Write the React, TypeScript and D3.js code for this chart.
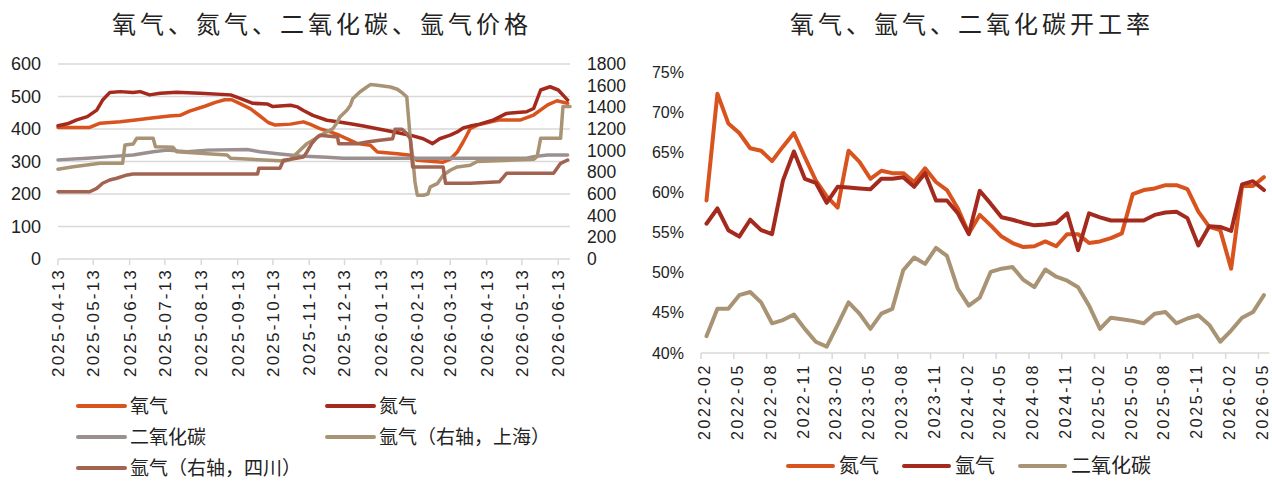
import React from 'react';
import * as d3 from 'd3';

// ---- left chart: prices (step series, breakpoints) ----
const priceTicks = [
  '2025-04-13', '2025-05-13', '2025-06-13', '2025-07-13', '2025-08-13',
  '2025-09-13', '2025-10-13', '2025-11-13', '2025-12-13', '2026-01-13',
  '2026-02-13', '2026-03-13', '2026-04-13', '2026-05-13', '2026-06-13',
];
const priceStart = '2025-04-13';
const priceEnd = '2026-06-23';

const oxygen: [string, number][] = [
  ['2025-04-13', 405], ['2025-05-10', 405], ['2025-05-19', 418], ['2025-06-05', 422],
  ['2025-06-18', 428], ['2025-06-30', 433], ['2025-07-17', 440], ['2025-07-26', 442],
  ['2025-08-03', 455], ['2025-08-16', 470], ['2025-08-25', 482], ['2025-09-02', 490],
  ['2025-09-08', 490], ['2025-09-15', 478], ['2025-09-24', 462], ['2025-10-02', 440],
  ['2025-10-09', 420], ['2025-10-15', 412], ['2025-10-28', 415], ['2025-11-08', 422],
  ['2025-11-14', 414], ['2025-11-22', 401], ['2025-12-01', 391], ['2025-12-09', 380],
  ['2025-12-18', 365], ['2025-12-24', 355], ['2026-01-04', 350], ['2026-01-10', 329],
  ['2026-01-27', 324], ['2026-02-07', 319], ['2026-02-13', 304], ['2026-03-07', 298],
  ['2026-03-13', 307], ['2026-03-19', 329], ['2026-03-24', 360], ['2026-03-27', 380],
  ['2026-03-30', 401], ['2026-04-05', 412], ['2026-04-24', 428], ['2026-05-12', 428],
  ['2026-05-23', 443], ['2026-06-04', 474], ['2026-06-12', 487], ['2026-06-21', 479],
];

const nitrogen: [string, number][] = [
  ['2025-04-13', 410], ['2025-04-21', 416], ['2025-04-29', 428], ['2025-05-08', 438],
  ['2025-05-16', 458], ['2025-05-21', 489], ['2025-05-27', 512], ['2025-06-05', 515],
  ['2025-06-16', 512], ['2025-06-22', 515], ['2025-06-30', 505], ['2025-07-09', 510],
  ['2025-07-23', 513], ['2025-08-12', 510], ['2025-09-07', 505], ['2025-09-15', 494],
  ['2025-09-26', 479], ['2025-10-08', 477], ['2025-10-13', 469], ['2025-10-28', 473],
  ['2025-11-03', 468], ['2025-11-08', 457], ['2025-11-16', 442], ['2025-11-28', 427],
  ['2025-12-07', 422], ['2025-12-18', 416], ['2025-12-29', 409], ['2026-01-10', 401],
  ['2026-01-21', 393], ['2026-02-07', 381], ['2026-02-18', 370], ['2026-02-26', 355],
  ['2026-03-04', 370], ['2026-03-13', 381], ['2026-03-19', 391], ['2026-03-24', 403],
  ['2026-03-30', 409], ['2026-04-07', 415], ['2026-04-19', 428], ['2026-04-30', 448],
  ['2026-05-17', 453], ['2026-05-23', 463], ['2026-05-29', 520], ['2026-06-06', 530],
  ['2026-06-13', 520], ['2026-06-21', 489],
];

const co2Price: [string, number][] = [
  ['2025-04-13', 305], ['2025-05-08', 310], ['2025-05-27', 315], ['2025-06-16', 320],
  ['2025-07-03', 330], ['2025-07-15', 335], ['2025-08-01', 330], ['2025-08-18', 335],
  ['2025-09-21', 337], ['2025-10-02', 330], ['2025-10-19', 323], ['2025-11-05', 317],
  ['2025-11-28', 313], ['2025-12-12', 310], ['2026-05-17', 310], ['2026-05-23', 315],
  ['2026-06-04', 320], ['2026-06-21', 320],
];

const argonShanghai: [string, number][] = [
  ['2025-04-13', 828], ['2025-04-26', 852], ['2025-05-19', 883], ['2025-06-07', 883],
  ['2025-06-09', 1052], ['2025-06-16', 1061], ['2025-06-19', 1114], ['2025-07-03', 1114],
  ['2025-07-05', 1037], ['2025-07-20', 1031], ['2025-07-23', 991], ['2025-08-12', 976],
  ['2025-09-04', 960], ['2025-09-07', 929], ['2025-10-23', 905], ['2025-10-28', 920],
  ['2025-11-11', 1065], ['2025-11-25', 1157], ['2025-12-03', 1203], ['2025-12-07', 1265],
  ['2025-12-09', 1311], ['2025-12-15', 1373], ['2025-12-18', 1419], ['2025-12-20', 1480],
  ['2025-12-26', 1542], ['2026-01-01', 1588], ['2026-01-04', 1610], ['2026-01-10', 1603],
  ['2026-01-21', 1588], ['2026-01-27', 1567], ['2026-02-01', 1526], ['2026-02-04', 1496],
  ['2026-02-07', 1111], ['2026-02-09', 942], ['2026-02-11', 711], ['2026-02-13', 588],
  ['2026-02-18', 588], ['2026-02-22', 600], ['2026-02-24', 665], ['2026-03-02', 695],
  ['2026-03-04', 726], ['2026-03-07', 773], ['2026-03-13', 819], ['2026-03-19', 850],
  ['2026-03-30', 865], ['2026-04-05', 900], ['2026-05-23', 920], ['2026-05-26', 945],
  ['2026-05-29', 1114], ['2026-06-15', 1114], ['2026-06-17', 1407], ['2026-06-23', 1407],
];

const argonSichuan: [string, number][] = [
  ['2025-04-13', 621], ['2025-05-10', 621], ['2025-05-16', 652], ['2025-05-21', 699],
  ['2025-05-27', 729], ['2025-06-02', 745], ['2025-06-11', 776], ['2025-06-16', 785],
  ['2025-09-30', 785], ['2025-10-01', 837], ['2025-10-19', 837], ['2025-10-22', 911],
  ['2025-10-28', 920], ['2025-11-08', 942], ['2025-11-11', 988], ['2025-11-15', 1065],
  ['2025-11-20', 1127], ['2025-11-22', 1142], ['2025-12-07', 1127], ['2025-12-08', 1065],
  ['2025-12-24', 1065], ['2026-01-01', 1080], ['2026-01-12', 1096], ['2026-01-23', 1111],
  ['2026-01-25', 1197], ['2026-01-31', 1197], ['2026-02-04', 1157], ['2026-02-07', 1111],
  ['2026-02-09', 850], ['2026-03-07', 850], ['2026-03-09', 699], ['2026-03-30', 700],
  ['2026-04-24', 714], ['2026-04-30', 791], ['2026-06-09', 791], ['2026-06-15', 883],
  ['2026-06-21', 914],
];

const leftTicks = [0, 100, 200, 300, 400, 500, 600];
const rightTicks = [0, 200, 400, 600, 800, 1000, 1200, 1400, 1600, 1800];

// ---- right chart: operating rates (monthly, 2022-02 .. 2026-05) ----
const rateStart = '2022-02-01';
const rateEnd = '2026-06-01';
const rateTickLabels = [
  '2022-02', '2022-05', '2022-08', '2022-11', '2023-02', '2023-05', '2023-08', '2023-11',
  '2024-02', '2024-05', '2024-08', '2024-11', '2025-02', '2025-05', '2025-08', '2025-11',
  '2026-02', '2026-05',
];
const nitrogenRate = [
  59.0, 72.3, 68.6, 67.4, 65.5, 65.2, 63.9, 65.7, 67.4, 64.4, 61.5, 59.5, 58.1,
  65.2, 63.8, 61.7, 62.7, 62.4, 62.4, 61.3, 63.0, 61.3, 60.3, 58.0, 54.9, 57.2,
  55.9, 54.5, 53.7, 53.2, 53.3, 53.9, 53.3, 54.8, 54.8, 53.7, 53.9, 54.3, 54.9,
  59.8, 60.3, 60.5, 60.9, 60.9, 60.4, 57.6, 55.7, 55.3, 50.5, 60.8, 60.8, 61.9,
];
const argonRate = [
  56.1, 58.0, 55.3, 54.5, 56.6, 55.3, 54.8, 61.5, 65.1, 61.7, 61.2, 58.7, 60.7,
  60.6, 60.5, 60.4, 61.7, 61.7, 61.9, 60.7, 62.4, 59.0, 59.0, 57.4, 54.8, 60.2,
  58.6, 56.9, 56.6, 56.2, 55.9, 56.0, 56.2, 57.4, 52.8, 57.4, 56.9, 56.5, 56.5,
  56.5, 56.5, 57.2, 57.5, 57.6, 56.8, 53.4, 55.8, 55.7, 55.2, 61.0, 61.4, 60.3,
];
const co2Rate = [
  42.1, 45.5, 45.5, 47.2, 47.6, 46.3, 43.7, 44.1, 44.8, 43.0, 41.4, 40.8, 43.5,
  46.3, 44.9, 43.0, 44.9, 45.5, 50.3, 51.9, 51.1, 53.1, 52.1, 48.0, 45.9, 46.9,
  50.1, 50.5, 50.7, 49.1, 48.2, 50.4, 49.5, 49.0, 48.2, 45.9, 43.0, 44.4, 44.2,
  44.0, 43.7, 44.9, 45.1, 43.7, 44.3, 44.7, 43.5, 41.4, 42.8, 44.4, 45.1, 47.2,
];
const rateTicks = [40, 45, 50, 55, 60, 65, 70, 75];

const C = {
  orange: '#D9531E',
  darkRed: '#A52A1E',
  grey: '#9B9090',
  tan: '#A89474',
  brown: '#A26450',
  grid: '#D9D9D9',
  text: '#222',
};

const LATIN = '"Liberation Sans", Arial, sans-serif';
const CJK = '"Noto Sans CJK SC", "Noto Sans", sans-serif';

const parse = d3.timeParse('%Y-%m-%d');

const App = () => {
  // left chart scales
  const x1 = d3.scaleTime().domain([parse(priceStart)!, parse(priceEnd)!]).range([58, 570]);
  const yL = d3.scaleLinear().domain([0, 600]).range([259, 64]);
  const yR = d3.scaleLinear().domain([0, 1800]).range([259, 64]);

  const lineL = d3.line<[string, number]>().x(d => x1(parse(d[0])!)).y(d => yL(d[1]));
  const lineR = d3.line<[string, number]>().x(d => x1(parse(d[0])!)).y(d => yR(d[1]));

  const leftSeries = [
    { name: '氧气', color: C.orange, d: lineL(oxygen) },
    { name: '氮气', color: C.darkRed, d: lineL(nitrogen) },
    { name: '二氧化碳', color: C.grey, d: lineL(co2Price) },
    { name: '氩气（右轴，上海）', color: C.tan, d: lineR(argonShanghai) },
    { name: '氩气（右轴，四川）', color: C.brown, d: lineR(argonSichuan) },
  ];

  // right chart scales
  const months = d3.timeMonth.range(parse(rateStart)!, parse(rateEnd)!);
  const fmtM = d3.timeFormat('%Y-%m');
  const monthKeys = months.map(fmtM);
  const x2 = d3.scaleBand<string>().domain(monthKeys).range([701, 1269.4]);
  const y2 = d3.scaleLinear().domain([40, 75]).range([353, 72]);
  const lineRate = d3.line<number>()
    .x((_, i) => x2(monthKeys[i])! + x2.bandwidth() / 2)
    .y(d => y2(d));

  const rightSeries = [
    { name: '氮气', color: C.orange, values: nitrogenRate },
    { name: '氩气', color: C.darkRed, values: argonRate },
    { name: '二氧化碳', color: C.tan, values: co2Rate },
  ];

  const leftLegendPos = [
    [78, 406], [327, 406], [78, 437], [327, 437], [78, 468],
  ];
  const rightLegendPos = [788, 904, 1020];

  return (
    <svg width={1272} height={482} style={{ position: 'absolute', left: 0, top: 0, background: '#fff' }}>
      {/* titles */}
      <text x={322} y={33} textAnchor="middle" fontFamily={CJK} fontSize={24} letterSpacing={4} fill={C.text}>
        氧气、氮气、二氧化碳、氩气价格
      </text>
      <text x={972} y={33} textAnchor="middle" fontFamily={CJK} fontSize={24} letterSpacing={4} fill={C.text}>
        氧气、氩气、二氧化碳开工率
      </text>

      {/* left chart grid + axes */}
      {leftTicks.map(t => (
        <g key={`gl${t}`}>
          <line x1={58} x2={570} y1={yL(t)} y2={yL(t)} stroke={C.grid} strokeWidth={1.5} />
          <text x={41} y={yL(t)} dy="0.35em" textAnchor="end" fontFamily={LATIN} fontSize={18} fill={C.text}>{t}</text>
        </g>
      ))}
      {rightTicks.map(t => (
        <text key={`gr${t}`} x={587} y={yR(t)} dy="0.35em" textAnchor="start" fontFamily={LATIN} fontSize={17.5} fill={C.text}>{t}</text>
      ))}
      {priceTicks.map(t => {
        const xx = x1(parse(t)!);
        return (
          <g key={`xt${t}`}>
            <line x1={xx} x2={xx} y1={259} y2={265} stroke={C.grid} strokeWidth={1.5} />
            <text transform={`translate(${xx},${268}) rotate(-90)`} dy="0.35em" textAnchor="end"
              fontFamily={LATIN} fontSize={17} letterSpacing={2.2} fill={C.text}>{t}</text>
          </g>
        );
      })}
      {leftSeries.map(s => (
        <path key={s.name} d={s.d ?? ''} fill="none" stroke={s.color} strokeWidth={3.5}
          strokeLinejoin="round" strokeLinecap="round" />
      ))}

      {/* left legend */}
      {leftSeries.map((s, i) => {
        const [lx, ly] = leftLegendPos[i];
        return (
          <g key={`ll${s.name}`}>
            <line x1={lx} x2={lx + 47} y1={ly} y2={ly} stroke={s.color} strokeWidth={4} strokeLinecap="round" />
            <text x={lx + 52} y={ly} dy="0.36em" fontFamily={CJK} fontSize={19} fill={C.text}>{s.name}</text>
          </g>
        );
      })}

      {/* right chart axes */}
      <line x1={701} x2={1269.4} y1={353} y2={353} stroke={C.grid} strokeWidth={1.5} />
      {rateTicks.map(t => (
        <text key={`ry${t}`} x={684} y={y2(t)} dy="0.35em" textAnchor="end" fontFamily={LATIN} fontSize={16} fill={C.text}>{t}%</text>
      ))}
      {rateTickLabels.map(lab => {
        const xs = x2(lab)!;
        const xc = xs + x2.bandwidth() / 2 - 1.5;
        return (
          <g key={`rx${lab}`}>
            <line x1={xs} x2={xs} y1={353} y2={359} stroke={C.grid} strokeWidth={1.5} />
            <text transform={`translate(${xc},${363}) rotate(-90)`} dy="0.33em" textAnchor="end"
              fontFamily={LATIN} fontSize={16} letterSpacing={2.6} fill={C.text}>{lab}</text>
          </g>
        );
      })}
      {rightSeries.map(s => (
        <path key={`rs${s.name}`} d={lineRate(s.values) ?? ''} fill="none" stroke={s.color} strokeWidth={4}
          strokeLinejoin="round" strokeLinecap="round" />
      ))}

      {/* right legend */}
      {rightSeries.map((s, i) => {
        const lx = rightLegendPos[i];
        return (
          <g key={`rl${s.name}`}>
            <line x1={lx} x2={lx + 45} y1={466} y2={466} stroke={s.color} strokeWidth={4} strokeLinecap="round" />
            <text x={lx + 51} y={466} dy="0.36em" fontFamily={CJK} fontSize={20} fill={C.text}>{s.name}</text>
          </g>
        );
      })}
    </svg>
  );
};

export default App;
